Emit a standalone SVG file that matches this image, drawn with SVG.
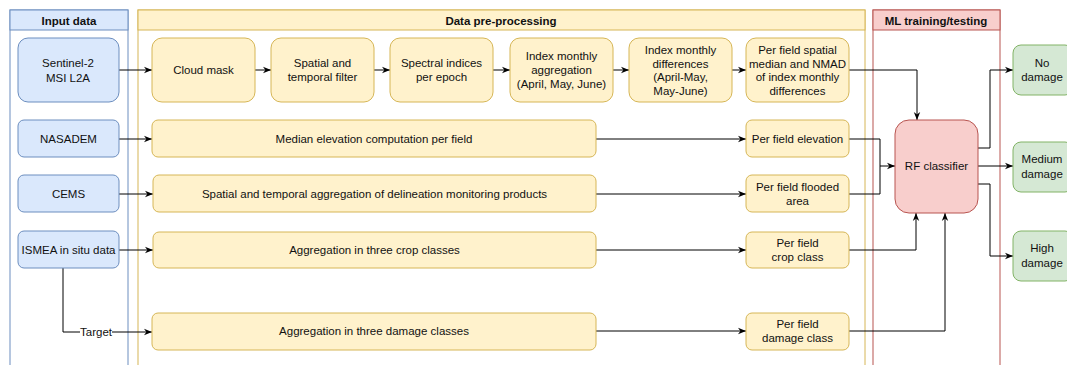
<svg xmlns="http://www.w3.org/2000/svg" width="1067" height="365" viewBox="0 0 1067 365">
<defs>
<marker id="arr" viewBox="0 0 10 10" refX="10" refY="5" markerWidth="8" markerHeight="8" markerUnits="userSpaceOnUse" orient="auto">
<path d="M0,1 L10,5 L0,9 L3,5 z" fill="#000"/>
</marker>
<style>
text{font-family:"Liberation Sans",Arial,Helvetica,sans-serif;font-size:11.5px;fill:#111;text-anchor:middle}
.hd{font-weight:bold}
.blue{fill:#dae8fc;stroke:#6c8ebf;stroke-width:1}
.yel{fill:#fff2cc;stroke:#d6b656;stroke-width:1}
.red{fill:#f8cecc;stroke:#b85450;stroke-width:1}
.grn{fill:#d5e8d4;stroke:#82b366;stroke-width:1}
.lb{fill:none;stroke:#6c8ebf}
.ly{fill:none;stroke:#d6b656}
.lr{fill:none;stroke:#b85450}
.c{fill:none;stroke:#000;stroke-width:1;marker-end:url(#arr)}
.cn{fill:none;stroke:#000;stroke-width:1}
</style>
</defs>
<rect width="1067" height="365" fill="#fff"/>

<g id="lane-input">
<rect class="lb" x="10" y="10" width="118" height="370"/>
<rect class="blue" x="10" y="10" width="118" height="20"/>
<text class="hd" x="69" y="25">Input data</text>
</g>
<g id="lane-pre">
<rect class="ly" x="138" y="10" width="727" height="370"/>
<rect class="yel" x="138" y="10" width="727" height="20"/>
<text class="hd" x="501" y="25">Data pre-processing</text>
</g>
<g id="lane-ml">
<rect class="lr" x="873" y="10" width="127" height="370"/>
<rect class="red" x="873" y="10" width="127" height="20"/>
<text class="hd" x="936" y="25">ML training/testing</text>
</g>

<g id="connectors">
<path class="c" d="M119,70 H152"/>
<path class="c" d="M255,70 H271"/>
<path class="c" d="M374,70 H390"/>
<path class="c" d="M493,70 H510"/>
<path class="c" d="M613,70 H629"/>
<path class="c" d="M732,70 H746"/>
<path class="c" d="M849,70 H917 V120"/>
<path class="c" d="M119,139 H152"/>
<path class="c" d="M596,139 H746"/>
<path class="c" d="M119,194 H153"/>
<path class="c" d="M596,194 H746"/>
<path class="c" d="M119,250 H153"/>
<path class="c" d="M596,250 H746"/>
<path class="cn" d="M63,268 V332 H80"/>
<path class="c" d="M112,332 H152"/>
<text x="96" y="336">Target</text>
<path class="c" d="M596,331 H746"/>
<path class="cn" d="M849,139 H880 V194 H849"/>
<path class="c" d="M880,166 H895"/>
<path class="c" d="M849,250 H916 V213"/>
<path class="c" d="M849,331 H945 V213"/>
<path class="c" d="M978,148 H990 V70 H1013"/>
<path class="c" d="M978,166 H1013"/>
<path class="c" d="M978,184 H990 V256 H1013"/>
</g>

<g id="n-sentinel"><rect class="blue" x="18" y="38" width="101" height="64" rx="10"/><text x="68" y="67">Sentinel-2</text><text x="68" y="82">MSI L2A</text></g>
<g id="n-cloud"><rect class="yel" x="152" y="38" width="103" height="64" rx="10"/><text x="203.5" y="74">Cloud mask</text></g>
<g id="n-spatial"><rect class="yel" x="271" y="38" width="103" height="64" rx="10"/><text x="322.5" y="67">Spatial and</text><text x="322.5" y="81">temporal filter</text></g>
<g id="n-spectral"><rect class="yel" x="390" y="38" width="103" height="64" rx="10"/><text x="441.5" y="67">Spectral indices</text><text x="441.5" y="81">per epoch</text></g>
<g id="n-aggr"><rect class="yel" x="510" y="38" width="103" height="64" rx="10"/><text x="561.5" y="60">Index monthly</text><text x="561.5" y="74">aggregation</text><text x="561.5" y="88">(April, May, June)</text></g>
<g id="n-diff"><rect class="yel" x="629" y="38" width="103" height="64" rx="10"/><text x="680.5" y="54">Index monthly</text><text x="680.5" y="67.5">differences</text><text x="680.5" y="81">(April-May,</text><text x="680.5" y="94.5">May-June)</text></g>
<g id="n-median"><rect class="yel" x="746" y="38" width="103" height="64" rx="10"/><text x="797.5" y="54">Per field spatial</text><text x="797.5" y="67.5">median and NMAD</text><text x="797.5" y="81">of index monthly</text><text x="797.5" y="94.5">differences</text></g>

<g id="n-nasadem"><rect class="blue" x="18" y="120" width="101" height="37" rx="6"/><text x="68.5" y="143">NASADEM</text></g>
<g id="n-medelev"><rect class="yel" x="152" y="120" width="444" height="37" rx="6"/><text x="374" y="143">Median elevation computation per field</text></g>
<g id="n-pfelev"><rect class="yel" x="746" y="120" width="103" height="37" rx="6"/><text x="797.5" y="143">Per field elevation</text></g>

<g id="n-cems"><rect class="blue" x="18" y="175" width="101" height="37" rx="6"/><text x="68.5" y="198">CEMS</text></g>
<g id="n-spagg"><rect class="yel" x="153" y="175" width="443" height="37" rx="6"/><text x="374.5" y="198">Spatial and temporal aggregation of delineation monitoring products</text></g>
<g id="n-pfflood"><rect class="yel" x="746" y="175" width="103" height="37" rx="6"/><text x="797.5" y="191">Per field flooded</text><text x="797.5" y="205">area</text></g>

<g id="n-ismea"><rect class="blue" x="18" y="231" width="101" height="37" rx="6"/><text x="68.5" y="254">ISMEA in situ data</text></g>
<g id="n-cropagg"><rect class="yel" x="153" y="232" width="443" height="36" rx="6"/><text x="374.5" y="254">Aggregation in three crop classes</text></g>
<g id="n-pfcrop"><rect class="yel" x="746" y="232" width="103" height="36" rx="6"/><text x="797.5" y="247">Per field</text><text x="797.5" y="261">crop class</text></g>

<g id="n-dmgagg"><rect class="yel" x="152" y="313" width="444" height="37" rx="6"/><text x="374" y="335">Aggregation in three damage classes</text></g>
<g id="n-pfdmg"><rect class="yel" x="746" y="313" width="103" height="37" rx="6"/><text x="797.5" y="328">Per field</text><text x="797.5" y="342">damage class</text></g>

<g id="n-rf"><rect class="red" x="895" y="120" width="83" height="93" rx="14"/><text x="936.5" y="170">RF classifier</text></g>

<g id="n-nodmg"><rect class="grn" x="1013" y="45" width="60" height="50" rx="8"/><text x="1042" y="67">No</text><text x="1042" y="81">damage</text></g>
<g id="n-meddmg"><rect class="grn" x="1013" y="142" width="60" height="50" rx="8"/><text x="1042" y="163">Medium</text><text x="1042" y="178">damage</text></g>
<g id="n-highdmg"><rect class="grn" x="1013" y="231" width="60" height="50" rx="8"/><text x="1042" y="252">High</text><text x="1042" y="267">damage</text></g>
</svg>
